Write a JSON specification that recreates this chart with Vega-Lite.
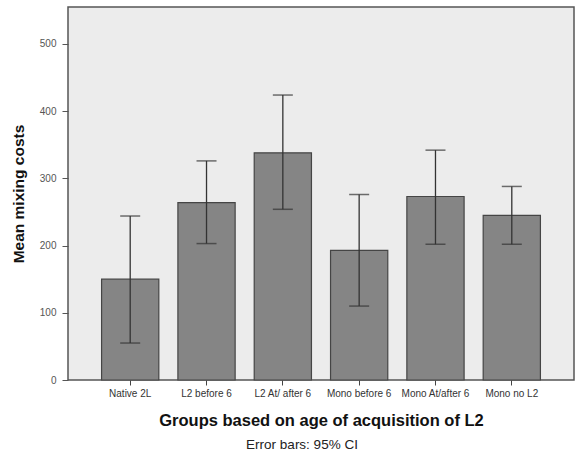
{
  "$schema": "https://vega.github.io/schema/vega-lite/v6.json",
  "width": 506,
  "height": 373,
  "autosize": {"type": "none"},
  "padding": {"left": 68, "top": 7, "right": 1, "bottom": 76},
  "background": "white",
  "config": {
    "view": {"fill": "#ececec", "stroke": "#555555", "strokeWidth": 1.5},
    "font": "Liberation Sans"
  },
  "title": {
    "text": "Error bars: 95% CI",
    "orient": "bottom",
    "anchor": "middle",
    "fontSize": 13.5,
    "fontWeight": "normal",
    "color": "#222222",
    "offset": 9,
    "dx": -19,
    "font": "Liberation Sans"
  },
  "data": {
    "values": [
      {"group": "Native 2L", "mean": 150, "lo": 55, "hi": 244},
      {"group": "L2 before 6", "mean": 264, "lo": 203, "hi": 326},
      {"group": "L2 At/ after 6", "mean": 338, "lo": 254, "hi": 424},
      {"group": "Mono before 6", "mean": 193, "lo": 110, "hi": 276},
      {"group": "Mono At/after 6", "mean": 273, "lo": 202, "hi": 342},
      {"group": "Mono no L2", "mean": 245, "lo": 202, "hi": 288}
    ]
  },
  "encoding": {
    "x": {
      "field": "group",
      "type": "nominal",
      "sort": null,
      "scale": {"paddingInner": 0.25, "paddingOuter": 0.44},
      "axis": {
        "title": "Groups based on age of acquisition of L2",
        "titleFontSize": 16.5,
        "titleFontWeight": "bold",
        "titleColor": "#111111",
        "titlePadding": 14,
        "labelAngle": 0,
        "labelFontSize": 10,
        "labelColor": "#333333",
        "labelPadding": 3,
        "tickColor": "#444444",
        "tickSize": 5,
        "domain": false
      }
    }
  },
  "layer": [
    {
      "mark": {"type": "bar", "fill": "#858585", "stroke": "#454545", "strokeWidth": 1.2},
      "encoding": {
        "y": {
          "field": "mean",
          "type": "quantitative",
          "scale": {"domain": [0, 555], "nice": false},
          "axis": {
            "title": "Mean mixing costs",
            "titleFontSize": 15.5,
            "titleFontWeight": "bold",
            "titleColor": "#111111",
            "titlePadding": 13,
            "values": [0, 100, 200, 300, 400, 500],
            "grid": false,
            "labelFontSize": 10,
            "labelColor": "#555555",
            "labelPadding": 6,
            "tickColor": "#555555",
            "tickSize": 6,
            "domain": false
          }
        }
      }
    },
    {
      "mark": {"type": "rule", "color": "#333333", "strokeWidth": 1.3},
      "encoding": {
        "y": {"field": "lo", "type": "quantitative"},
        "y2": {"field": "hi"}
      }
    },
    {
      "mark": {"type": "tick", "orient": "horizontal", "color": "#333333", "thickness": 1.5, "size": 20},
      "encoding": {"y": {"field": "hi", "type": "quantitative"}}
    },
    {
      "mark": {"type": "tick", "orient": "horizontal", "color": "#333333", "thickness": 1.5, "size": 20},
      "encoding": {"y": {"field": "lo", "type": "quantitative"}}
    }
  ]
}
